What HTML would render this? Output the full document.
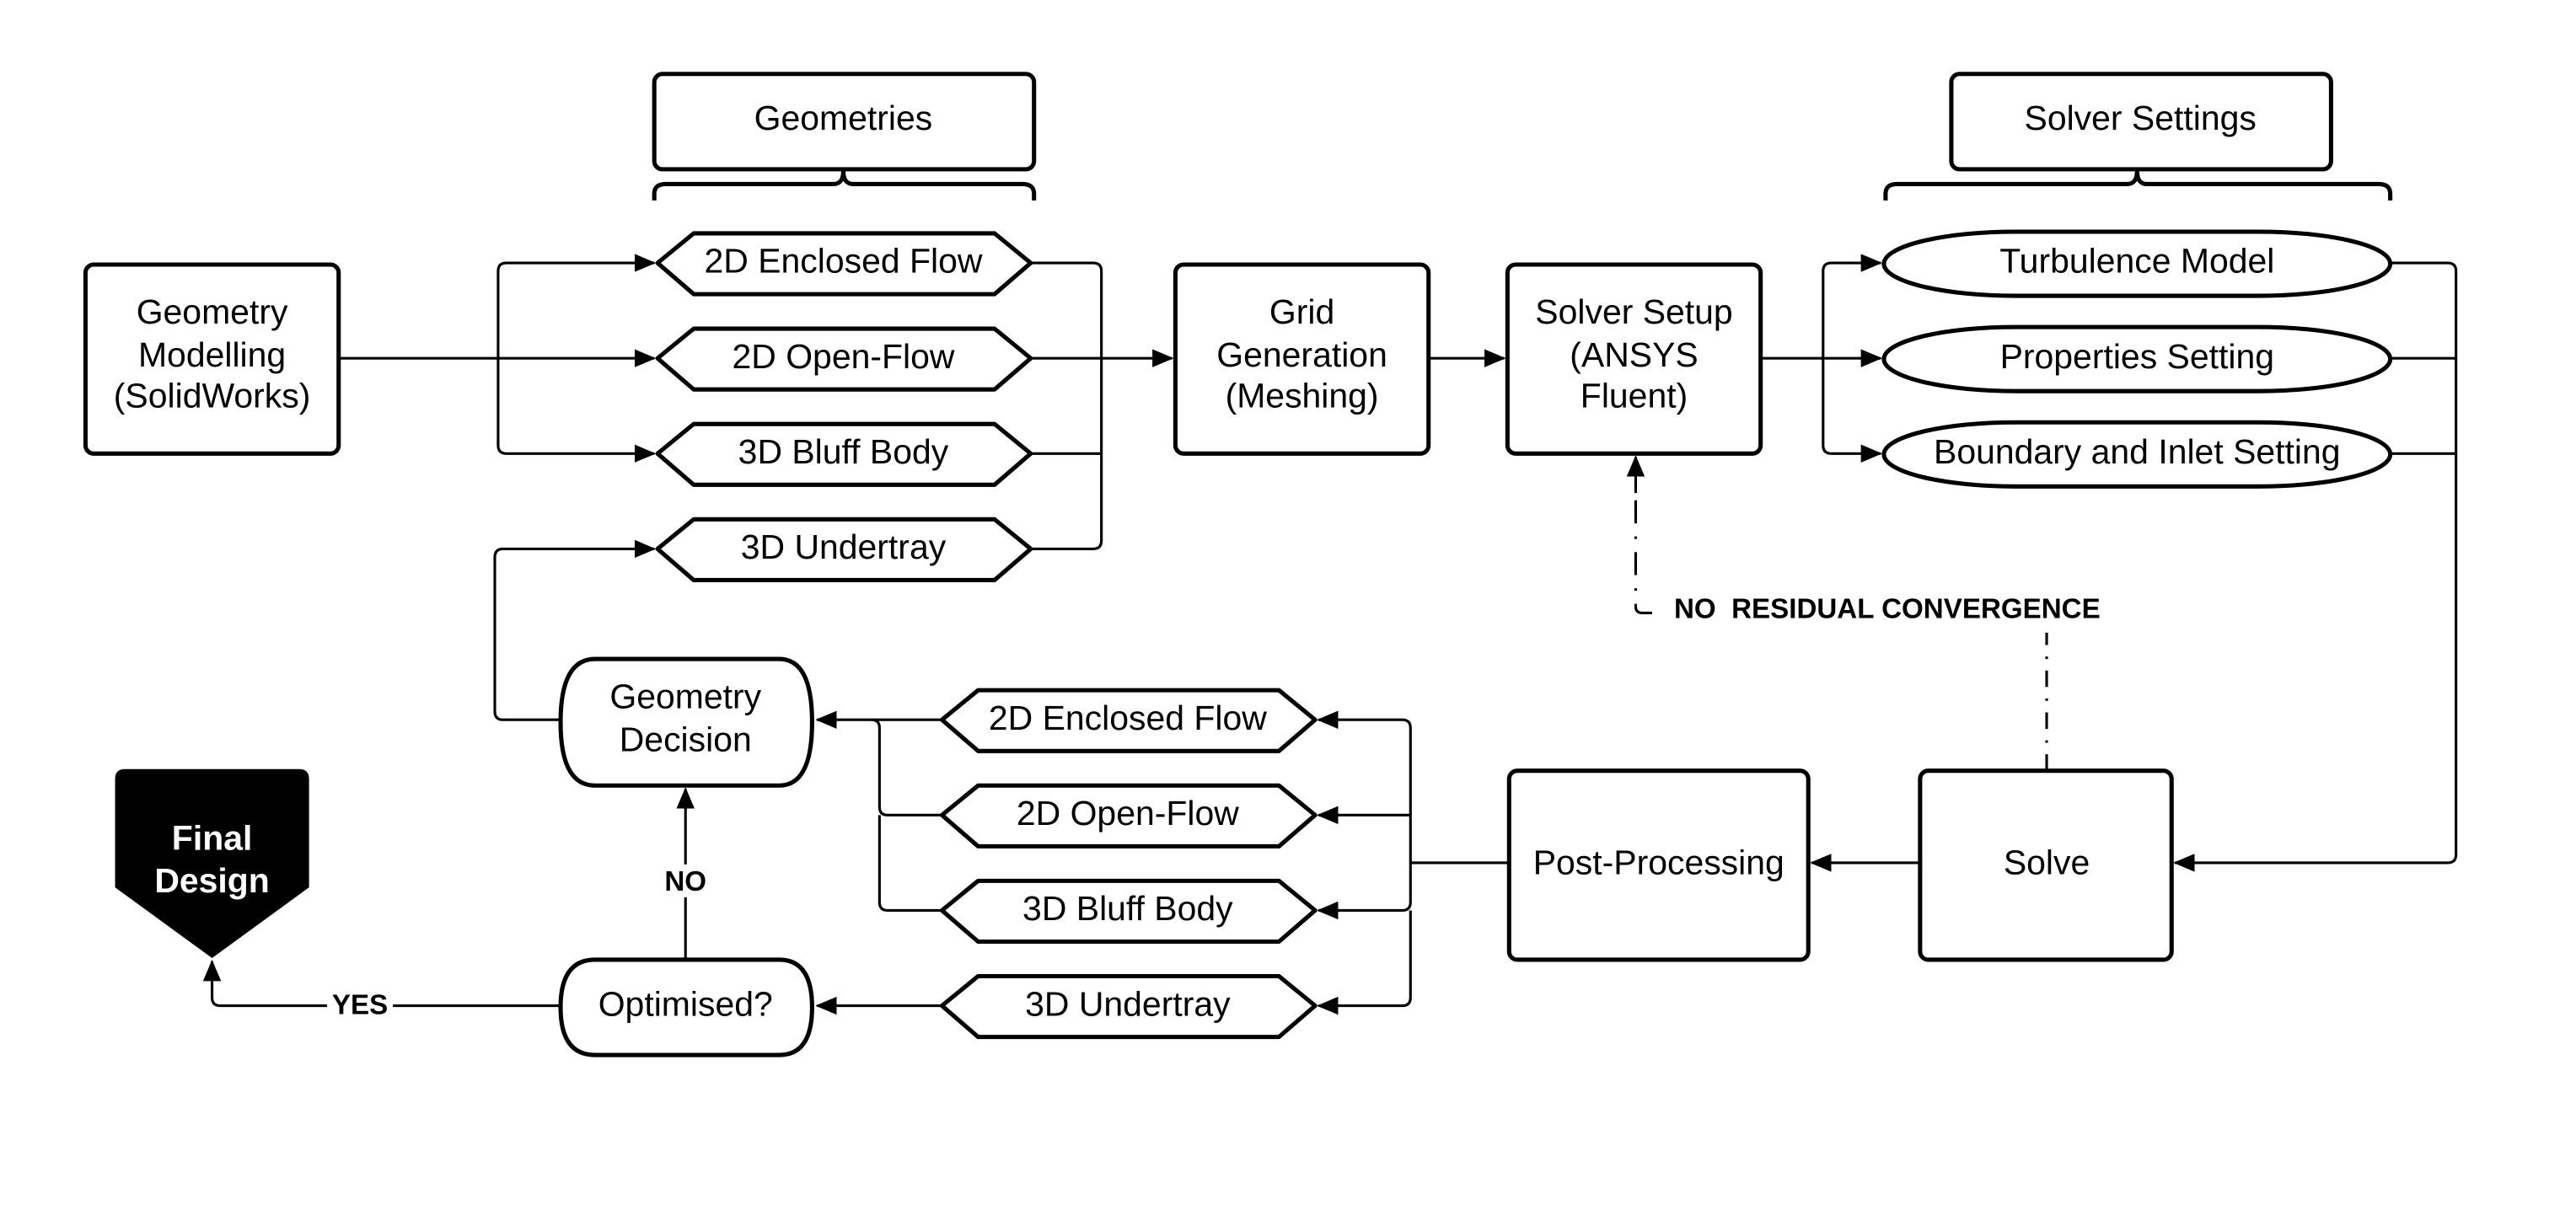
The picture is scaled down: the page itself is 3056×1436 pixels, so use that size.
<!DOCTYPE html>
<html><head><meta charset="utf-8"><style>html,body{margin:0;padding:0;background:#fff}svg{display:block}</style></head>
<body>
<svg width="3056" height="1436" viewBox="0 0 1567 736.3" preserveAspectRatio="none" xmlns="http://www.w3.org/2000/svg" font-family="Liberation Sans, sans-serif">
<defs>
<marker id="a" markerWidth="13" markerHeight="11" refX="12" refY="5.5" orient="auto" markerUnits="userSpaceOnUse" viewBox="0 0 13 11"><path d="M0,0 L13,5.5 L0,11 Z" fill="#000"/></marker>
</defs>
<rect width="1567" height="736.3" fill="#fff"/>
<g fill="none" stroke="#000" stroke-width="2.6" stroke-linejoin="round">
<rect x="398" y="45" width="231" height="58" rx="5"/>
<rect x="1187" y="45" width="231" height="58" rx="5"/>
<path d="M398,122 V118 Q398,112 405,112 H507 Q513,112 513,104 Q513,112 519,112 H622 Q629,112 629,118 V122"/>
<path d="M1147,122 V118 Q1147,112 1154,112 H1294 Q1300,112 1300,104 Q1300,112 1306,112 H1447 Q1454,112 1454,118 V122"/>
<rect x="52" y="161" width="154" height="115" rx="5"/>
<rect x="715" y="161" width="154" height="115" rx="5"/>
<rect x="917" y="161" width="154" height="115" rx="5"/>
<rect x="918" y="469" width="182" height="115" rx="5"/>
<rect x="1168" y="469" width="153" height="115" rx="5"/>
<path d="M400,160 L422,142 H605 L627,160 L605,179 H422 Z"/>
<path d="M400,218 L422,200 H605 L627,218 L605,237 H422 Z"/>
<path d="M400,276 L422,258 H605 L627,276 L605,295 H422 Z"/>
<path d="M400,334 L422,316 H605 L627,334 L605,353 H422 Z"/>
<path d="M573,438 L595,420 H778 L800,438 L778,457 H595 Z"/>
<path d="M573,496 L595,478 H778 L800,496 L778,515 H595 Z"/>
<path d="M573,554 L595,536 H778 L800,554 L778,573 H595 Z"/>
<path d="M573,612 L595,594 H778 L800,612 L778,631 H595 Z"/>
<rect x="1146" y="141" width="308" height="39" rx="80" ry="19.5"/>
<rect x="1146" y="199" width="308" height="39" rx="80" ry="19.5"/>
<rect x="1146" y="257" width="308" height="39" rx="80" ry="19.5"/>
<path d="M362,401 H474 Q494,401 494,439.5 Q494,478 474,478 H362 Q341,478 341,439.5 Q341,401 362,401 Z"/>
<path d="M362,584 H474 Q494,584 494,613 Q494,642 474,642 H362 Q341,642 341,613 Q341,584 362,584 Z"/>
</g>
<path d="M76,468 H182 Q188,468 188,474 V540 L129,583 L70,540 V474 Q70,468 76,468 Z" fill="#000"/>
<g fill="none" stroke="#000" stroke-width="1.6" stroke-linejoin="round">
<path d="M206,218 H398" marker-end="url(#a)"/>
<path d="M303,218 V165 Q303,160 308,160 H398" marker-end="url(#a)"/>
<path d="M303,218 V271 Q303,276 308,276 H398" marker-end="url(#a)"/>
<path d="M627,160 H665 Q670,160 670,165 V329 Q670,334 665,334 H627"/>
<path d="M627,276 H670"/>
<path d="M627,218 H713" marker-end="url(#a)"/>
<path d="M869,218 H915" marker-end="url(#a)"/>
<path d="M1071,218 H1144" marker-end="url(#a)"/>
<path d="M1109,218 V165 Q1109,160 1114,160 H1144" marker-end="url(#a)"/>
<path d="M1109,218 V271 Q1109,276 1114,276 H1144" marker-end="url(#a)"/>
<path d="M1454,160 H1489 Q1494,160 1494,165 V520 Q1494,525 1489,525 H1323" marker-end="url(#a)"/>
<path d="M1454,218 H1494 M1454,276 H1494"/>
<path d="M1168,525 H1102" marker-end="url(#a)"/>
<path d="M918,525 H858 V443 Q858,438 853,438 H802" marker-end="url(#a)"/>
<path d="M858,496 H802" marker-end="url(#a)"/>
<path d="M858,525 V549 Q858,554 853,554 H802" marker-end="url(#a)"/>
<path d="M858,554 V607 Q858,612 853,612 H802" marker-end="url(#a)"/>
<path d="M573,438 H497" marker-end="url(#a)"/>
<path d="M573,496 H540 Q535,496 535,491 V443 Q535,438 530,438"/>
<path d="M573,554 H540 Q535,554 535,549 V496"/>
<path d="M573,612 H497" marker-end="url(#a)"/>
<path d="M341,438 H306 Q301,438 301,433 V339 Q301,334 306,334 H398" marker-end="url(#a)"/>
<path d="M417,584 V480" marker-end="url(#a)"/>
<path d="M341,612 H134 Q129,612 129,607 V585" marker-end="url(#a)"/>
<path d="M1245,469 V385" stroke-dasharray="10 7 1.5 7"/>
<path d="M1005,373 H999 Q995,373 995,369 V300" stroke-dasharray="14 8 1.5 8"/>
<path d="M995,300 V278" marker-end="url(#a)"/>
</g>
<rect x="403" y="526" width="28" height="20" fill="#fff"/>
<rect x="199" y="602" width="40" height="18" fill="#fff"/>
<g font-size="21" text-anchor="middle" fill="#000">
<text x="513" y="79">Geometries</text>
<text x="1302" y="79">Solver Settings</text>
<text x="129" y="197">Geometry</text><text x="129" y="223">Modelling</text><text x="129" y="248">(SolidWorks)</text>
<text x="792" y="197">Grid</text><text x="792" y="223">Generation</text><text x="792" y="248">(Meshing)</text>
<text x="994" y="197">Solver Setup</text><text x="994" y="223">(ANSYS</text><text x="994" y="248">Fluent)</text>
<text x="513" y="166">2D Enclosed Flow</text>
<text x="513" y="224">2D Open-Flow</text>
<text x="513" y="282">3D Bluff Body</text>
<text x="513" y="340">3D Undertray</text>
<text x="686" y="444">2D Enclosed Flow</text>
<text x="686" y="502">2D Open-Flow</text>
<text x="686" y="560">3D Bluff Body</text>
<text x="686" y="618">3D Undertray</text>
<text x="1300" y="166">Turbulence Model</text>
<text x="1300" y="224">Properties Setting</text>
<text x="1300" y="282">Boundary and Inlet Setting</text>
<text x="1009" y="532">Post-Processing</text>
<text x="1245" y="532">Solve</text>
<text x="417" y="431">Geometry</text><text x="417" y="457">Decision</text>
<text x="417" y="618">Optimised?</text>
</g>
<g font-size="17" font-weight="bold" text-anchor="middle" fill="#000">
<text x="417" y="542">NO</text>
<text x="219" y="617">YES</text>
<text x="1148" y="376">NO&#160; RESIDUAL CONVERGENCE</text>
</g>
<g font-size="21" font-weight="bold" text-anchor="middle" fill="#fff">
<text x="129" y="517">Final</text><text x="129" y="543">Design</text>
</g>
</svg>
</body></html>
